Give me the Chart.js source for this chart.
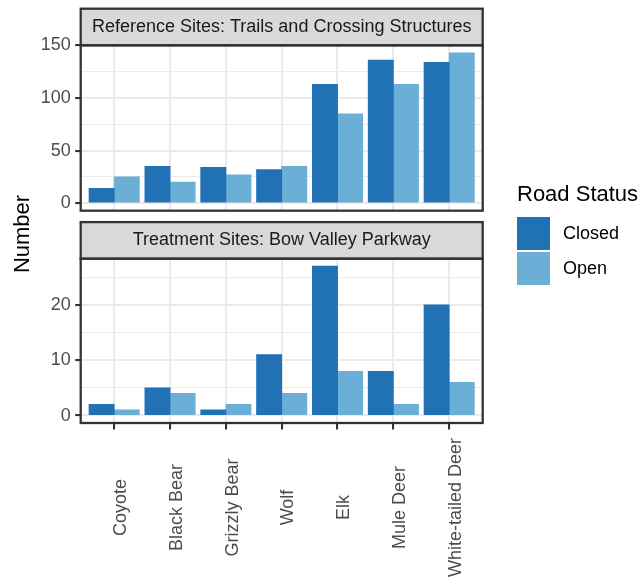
<!DOCTYPE html>
<html>
<head>
<meta charset="utf-8">
<script src="https://cdn.jsdelivr.net/npm/chart.js@4.4.1/dist/chart.umd.min.js"></script>
<style>
  body { margin: 0; background: #fff; font-family: "Liberation Sans", Arial, Helvetica, sans-serif; }
  #page { position: relative; width: 640px; height: 577px; overflow: hidden; background: #fff; }
  #page canvas { position: absolute; left: 0; top: 0; }
  #yTitle {
    position: absolute; left: -78.3px; top: 223px; width: 200px; height: 22px;
    line-height: 22px; font-size: 22px; text-align: center; color: #000;
    transform: rotate(-90deg);
  }
  .legend-title { position: absolute; left: 517px; top: 183px; font-size: 22px; line-height: 22px; color: #000; white-space: nowrap; }
  .legend-key { position: absolute; left: 517px; width: 33px; height: 33px; }
  .legend-label { position: absolute; left: 563px; height: 33px; line-height: 33px; font-size: 18px; color: #000; }
</style>
</head>
<body>
<div id="page">
  <canvas id="refChart" width="640" height="577"></canvas>
  <canvas id="trtChart" width="640" height="577"></canvas>
  <div id="yTitle">Number</div>
  <div id="legend"></div>
</div>
<script>
const species = ['Coyote', 'Black Bear', 'Grizzly Bear', 'Wolf', 'Elk', 'Mule Deer', 'White-tailed Deer'];
const roadStatus = ['Closed', 'Open'];
const statusColors = ['#2171B5', '#6BAED6'];

// reference sites: trails and crossing structures
const refClosed = [14, 35, 34, 32, 113, 136, 134];
const refOpen = [25, 20, 27, 35, 85, 113, 143];
const refTicks = [0, 50, 100, 150];
const refMinor = [25, 75, 125];

// treatment sites: Bow Valley Parkway
const trtClosed = [2, 5, 1, 11, 27, 8, 20];
const trtOpen = [1, 4, 2, 4, 8, 2, 6];
const trtTicks = [0, 10, 20];
const trtMinor = [5, 15, 25];

const FONT = '"Liberation Sans", Arial, Helvetica, sans-serif';
const TEXT_SIZE = 18;
const W = 640, H = 577;
const PANEL_LEFT = 80.7, PANEL_RIGHT = 482.7;
const STRIP_H = 36.6;
const FRAME = '#333333';
const GRID = '#EBEBEB';

Chart.defaults.font.family = FONT;

// strip header, panel border and rotated category labels
const panelFrame = {
    id: 'panelFrame',
    afterDraw(chart, args, opts) {
        const { ctx, chartArea: a } = chart;
        ctx.save();
        ctx.fillStyle = '#D9D9D9';
        ctx.fillRect(a.left, a.top - STRIP_H, a.right - a.left, STRIP_H);
        ctx.lineWidth = 2.3;
        ctx.strokeStyle = FRAME;
        ctx.strokeRect(a.left, a.top - STRIP_H, a.right - a.left, STRIP_H);
        ctx.strokeRect(a.left, a.top, a.right - a.left, a.bottom - a.top);

        ctx.fillStyle = '#1A1A1A';
        ctx.font = TEXT_SIZE + 'px ' + FONT;
        ctx.textAlign = 'center';
        ctx.textBaseline = 'middle';
        ctx.fillText(opts.title, (a.left + a.right) / 2, a.top - STRIP_H / 2);

        if (opts.labels) {
            const xs = chart.scales.x;
            ctx.fillStyle = '#4D4D4D';
            ctx.textBaseline = 'alphabetic';
            opts.labels.forEach((name, i) => {
                ctx.save();
                ctx.translate(xs.getPixelForValue(i + 1) + 11.7, a.bottom + 84.5);
                ctx.rotate(-Math.PI / 2);
                ctx.fillText(name, 0, 0);
                ctx.restore();
            });
        }
        ctx.restore();
    }
};

function makePanel(canvasId, title, closed, open, ticks, minor, top, bottom, showLabels) {
    const peak = Math.max(...closed, ...open);
    const steps = ticks.concat(minor).sort((a, b) => a - b);
    const isMajor = v => ticks.includes(v);

    const datasets = [closed, open].map((vals, k) => ({
        label: roadStatus[k],
        data: vals.map((v, i) => ({ x: i + 1, y: v })),
        backgroundColor: statusColors[k],
        borderWidth: 0,
        inflateAmount: 0.4,
        categoryPercentage: 0.9,
        barPercentage: 1
    }));

    return new Chart(document.getElementById(canvasId), {
        type: 'bar',
        data: { datasets },
        plugins: [panelFrame],
        options: {
            responsive: false,
            animation: false,
            devicePixelRatio: 1,
            layout: { padding: { left: 0, right: W - PANEL_RIGHT, top: top, bottom: H - bottom } },
            plugins: {
                legend: { display: false },
                tooltip: { enabled: false },
                panelFrame: { title: title, labels: showLabels ? species : null }
            },
            scales: {
                x: {
                    type: 'linear',
                    min: 0.4,
                    max: species.length + 0.6,
                    offset: false,
                    afterBuildTicks: s => { s.ticks = species.map((_, i) => ({ value: i + 1 })); },
                    afterFit: s => { s.height = 0; },
                    border: { display: false },
                    grid: {
                        offset: false,
                        color: GRID,
                        lineWidth: 2.1,
                        drawTicks: showLabels,
                        tickLength: 6.5,
                        tickWidth: 2.1,
                        tickColor: FRAME
                    },
                    ticks: { display: false }
                },
                y: {
                    min: -0.05 * peak,
                    max: 1.05 * peak,
                    afterBuildTicks: s => { s.ticks = steps.map(v => ({ value: v })); },
                    afterFit: s => { s.width = PANEL_LEFT; },
                    border: { display: false },
                    grid: {
                        color: GRID,
                        lineWidth: c => isMajor(c.tick.value) ? 2.1 : 1.1,
                        tickLength: 5.5,
                        tickWidth: 2.1,
                        tickColor: c => isMajor(c.tick.value) ? FRAME : 'rgba(0,0,0,0)'
                    },
                    ticks: {
                        color: '#4D4D4D',
                        font: { size: TEXT_SIZE },
                        padding: 4.5,
                        callback: v => isMajor(v) ? String(v) : ''
                    }
                }
            }
        }
    });
}

makePanel('refChart', 'Reference Sites: Trails and Crossing Structures',
    refClosed, refOpen, refTicks, refMinor, 45.3, 210.7, false);
makePanel('trtChart', 'Treatment Sites: Bow Valley Parkway',
    trtClosed, trtOpen, trtTicks, trtMinor, 258.7, 423, true);

// legend on the right
const legend = document.getElementById('legend');
const head = document.createElement('div');
head.className = 'legend-title';
head.textContent = 'Road Status';
legend.appendChild(head);
roadStatus.forEach((name, k) => {
    const y = 217 + k * 35;
    const key = document.createElement('div');
    key.className = 'legend-key';
    key.style.top = y + 'px';
    key.style.background = statusColors[k];
    legend.appendChild(key);
    const label = document.createElement('div');
    label.className = 'legend-label';
    label.style.top = y + 'px';
    label.textContent = name;
    legend.appendChild(label);
});
</script>
</body>
</html>
